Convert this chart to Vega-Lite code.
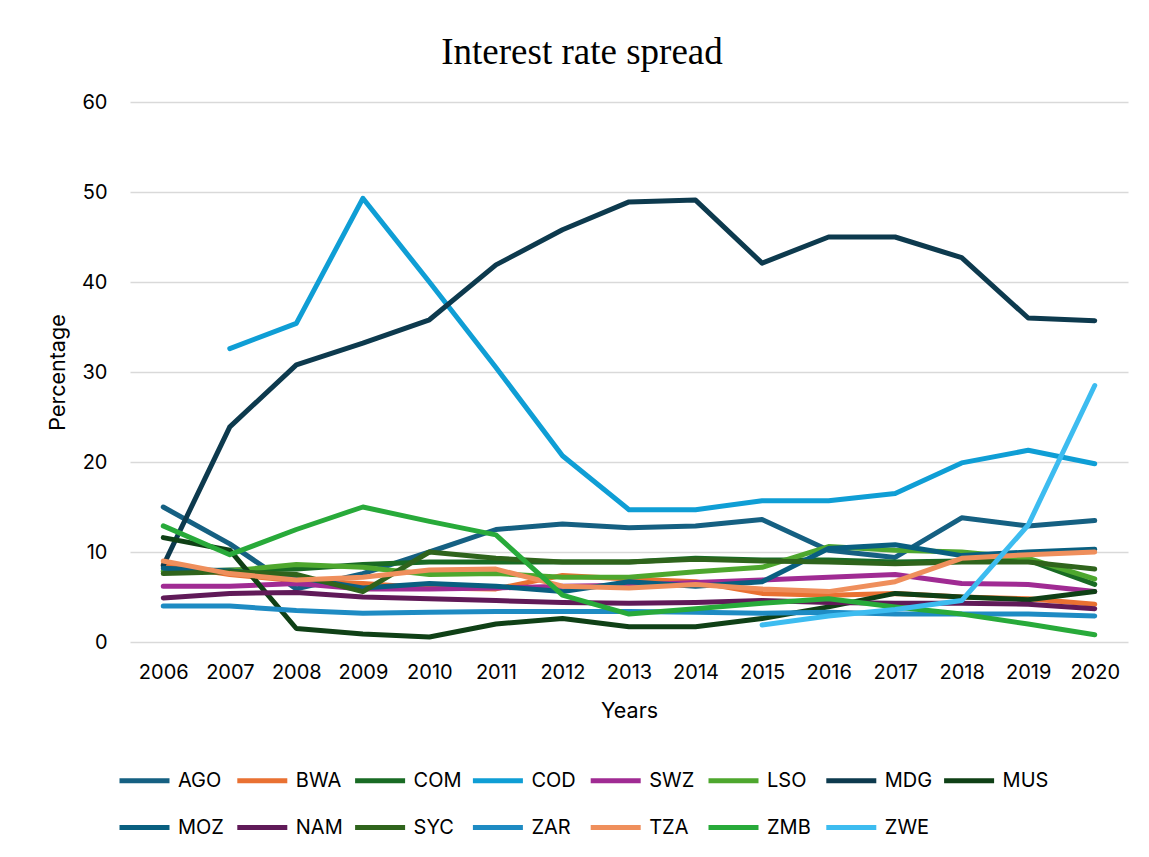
{
  "$schema": "https://vega.github.io/schema/vega-lite/v6.json",
  "width": 998,
  "height": 540,
  "autosize": {"type": "none"},
  "padding": {"left": 130, "top": 102, "right": 21, "bottom": 215},
  "background": "white",
  "title": {
    "text": "Interest rate spread",
    "font": "Liberation Serif",
    "fontSize": 37,
    "fontWeight": "normal",
    "color": "#000000",
    "anchor": "middle",
    "dx": -47,
    "offset": 20
  },
  "config": {
    "view": {"stroke": null},
    "font": "Inter"
  },
  "datasets": {
    "spread": [
      {"country": "AGO", "year": "2006", "value": 15.0},
      {"country": "AGO", "year": "2007", "value": 10.9},
      {"country": "AGO", "year": "2008", "value": 5.9},
      {"country": "AGO", "year": "2009", "value": 7.6},
      {"country": "AGO", "year": "2010", "value": 10.0},
      {"country": "AGO", "year": "2011", "value": 12.5},
      {"country": "AGO", "year": "2012", "value": 13.1},
      {"country": "AGO", "year": "2013", "value": 12.7},
      {"country": "AGO", "year": "2014", "value": 12.9},
      {"country": "AGO", "year": "2015", "value": 13.6},
      {"country": "AGO", "year": "2016", "value": 10.2},
      {"country": "AGO", "year": "2017", "value": 9.4},
      {"country": "AGO", "year": "2018", "value": 13.8},
      {"country": "AGO", "year": "2019", "value": 12.9},
      {"country": "AGO", "year": "2020", "value": 13.5},

      {"country": "BWA", "year": "2006", "value": 8.6},
      {"country": "BWA", "year": "2007", "value": 7.5},
      {"country": "BWA", "year": "2008", "value": 6.8},
      {"country": "BWA", "year": "2009", "value": 6.5},
      {"country": "BWA", "year": "2010", "value": 6.0},
      {"country": "BWA", "year": "2011", "value": 5.9},
      {"country": "BWA", "year": "2012", "value": 7.4},
      {"country": "BWA", "year": "2013", "value": 7.0},
      {"country": "BWA", "year": "2014", "value": 6.7},
      {"country": "BWA", "year": "2015", "value": 5.4},
      {"country": "BWA", "year": "2016", "value": 5.2},
      {"country": "BWA", "year": "2017", "value": 5.4},
      {"country": "BWA", "year": "2018", "value": 5.0},
      {"country": "BWA", "year": "2019", "value": 4.8},
      {"country": "BWA", "year": "2020", "value": 4.2},

      {"country": "COM", "year": "2006", "value": 7.8},
      {"country": "COM", "year": "2007", "value": 8.0},
      {"country": "COM", "year": "2008", "value": 8.1},
      {"country": "COM", "year": "2009", "value": 8.6},
      {"country": "COM", "year": "2010", "value": 8.9},
      {"country": "COM", "year": "2011", "value": 8.9},
      {"country": "COM", "year": "2012", "value": 8.9},
      {"country": "COM", "year": "2013", "value": 8.9},
      {"country": "COM", "year": "2014", "value": 9.3},
      {"country": "COM", "year": "2015", "value": 9.1},
      {"country": "COM", "year": "2016", "value": 9.1},
      {"country": "COM", "year": "2017", "value": 8.9},
      {"country": "COM", "year": "2018", "value": 9.0},
      {"country": "COM", "year": "2019", "value": 9.1},
      {"country": "COM", "year": "2020", "value": 6.4},

      {"country": "COD", "year": "2007", "value": 32.6},
      {"country": "COD", "year": "2008", "value": 35.4},
      {"country": "COD", "year": "2009", "value": 49.3},
      {"country": "COD", "year": "2010", "value": 40.0},
      {"country": "COD", "year": "2011", "value": 30.5},
      {"country": "COD", "year": "2012", "value": 20.7},
      {"country": "COD", "year": "2013", "value": 14.7},
      {"country": "COD", "year": "2014", "value": 14.7},
      {"country": "COD", "year": "2015", "value": 15.7},
      {"country": "COD", "year": "2016", "value": 15.7},
      {"country": "COD", "year": "2017", "value": 16.5},
      {"country": "COD", "year": "2018", "value": 19.9},
      {"country": "COD", "year": "2019", "value": 21.3},
      {"country": "COD", "year": "2020", "value": 19.8},

      {"country": "SWZ", "year": "2006", "value": 6.2},
      {"country": "SWZ", "year": "2007", "value": 6.2},
      {"country": "SWZ", "year": "2008", "value": 6.5},
      {"country": "SWZ", "year": "2009", "value": 5.9},
      {"country": "SWZ", "year": "2010", "value": 5.9},
      {"country": "SWZ", "year": "2011", "value": 6.0},
      {"country": "SWZ", "year": "2012", "value": 6.2},
      {"country": "SWZ", "year": "2013", "value": 6.3},
      {"country": "SWZ", "year": "2014", "value": 6.6},
      {"country": "SWZ", "year": "2015", "value": 6.9},
      {"country": "SWZ", "year": "2016", "value": 7.2},
      {"country": "SWZ", "year": "2017", "value": 7.5},
      {"country": "SWZ", "year": "2018", "value": 6.5},
      {"country": "SWZ", "year": "2019", "value": 6.4},
      {"country": "SWZ", "year": "2020", "value": 5.6},

      {"country": "LSO", "year": "2006", "value": 7.9},
      {"country": "LSO", "year": "2007", "value": 7.9},
      {"country": "LSO", "year": "2008", "value": 8.6},
      {"country": "LSO", "year": "2009", "value": 8.3},
      {"country": "LSO", "year": "2010", "value": 7.5},
      {"country": "LSO", "year": "2011", "value": 7.6},
      {"country": "LSO", "year": "2012", "value": 7.2},
      {"country": "LSO", "year": "2013", "value": 7.2},
      {"country": "LSO", "year": "2014", "value": 7.8},
      {"country": "LSO", "year": "2015", "value": 8.3},
      {"country": "LSO", "year": "2016", "value": 10.6},
      {"country": "LSO", "year": "2017", "value": 10.2},
      {"country": "LSO", "year": "2018", "value": 10.0},
      {"country": "LSO", "year": "2019", "value": 9.3},
      {"country": "LSO", "year": "2020", "value": 7.0},

      {"country": "MDG", "year": "2006", "value": 8.5},
      {"country": "MDG", "year": "2007", "value": 23.9},
      {"country": "MDG", "year": "2008", "value": 30.8},
      {"country": "MDG", "year": "2009", "value": 33.2},
      {"country": "MDG", "year": "2010", "value": 35.8},
      {"country": "MDG", "year": "2011", "value": 41.9},
      {"country": "MDG", "year": "2012", "value": 45.8},
      {"country": "MDG", "year": "2013", "value": 48.9},
      {"country": "MDG", "year": "2014", "value": 49.1},
      {"country": "MDG", "year": "2015", "value": 42.1},
      {"country": "MDG", "year": "2016", "value": 45.0},
      {"country": "MDG", "year": "2017", "value": 45.0},
      {"country": "MDG", "year": "2018", "value": 42.7},
      {"country": "MDG", "year": "2019", "value": 36.0},
      {"country": "MDG", "year": "2020", "value": 35.7},

      {"country": "MUS", "year": "2006", "value": 11.6},
      {"country": "MUS", "year": "2007", "value": 10.2},
      {"country": "MUS", "year": "2008", "value": 1.5},
      {"country": "MUS", "year": "2009", "value": 0.9},
      {"country": "MUS", "year": "2010", "value": 0.55},
      {"country": "MUS", "year": "2011", "value": 2.0},
      {"country": "MUS", "year": "2012", "value": 2.6},
      {"country": "MUS", "year": "2013", "value": 1.7},
      {"country": "MUS", "year": "2014", "value": 1.7},
      {"country": "MUS", "year": "2015", "value": 2.6},
      {"country": "MUS", "year": "2016", "value": 3.9},
      {"country": "MUS", "year": "2017", "value": 5.4},
      {"country": "MUS", "year": "2018", "value": 5.0},
      {"country": "MUS", "year": "2019", "value": 4.7},
      {"country": "MUS", "year": "2020", "value": 5.6},

      {"country": "MOZ", "year": "2006", "value": 8.2},
      {"country": "MOZ", "year": "2007", "value": 7.9},
      {"country": "MOZ", "year": "2008", "value": 7.2},
      {"country": "MOZ", "year": "2009", "value": 6.0},
      {"country": "MOZ", "year": "2010", "value": 6.5},
      {"country": "MOZ", "year": "2011", "value": 6.2},
      {"country": "MOZ", "year": "2012", "value": 5.6},
      {"country": "MOZ", "year": "2013", "value": 6.7},
      {"country": "MOZ", "year": "2014", "value": 6.2},
      {"country": "MOZ", "year": "2015", "value": 6.7},
      {"country": "MOZ", "year": "2016", "value": 10.4},
      {"country": "MOZ", "year": "2017", "value": 10.8},
      {"country": "MOZ", "year": "2018", "value": 9.6},
      {"country": "MOZ", "year": "2019", "value": 10.0},
      {"country": "MOZ", "year": "2020", "value": 10.3},

      {"country": "NAM", "year": "2006", "value": 4.9},
      {"country": "NAM", "year": "2007", "value": 5.4},
      {"country": "NAM", "year": "2008", "value": 5.5},
      {"country": "NAM", "year": "2009", "value": 5.0},
      {"country": "NAM", "year": "2010", "value": 4.8},
      {"country": "NAM", "year": "2011", "value": 4.6},
      {"country": "NAM", "year": "2012", "value": 4.4},
      {"country": "NAM", "year": "2013", "value": 4.3},
      {"country": "NAM", "year": "2014", "value": 4.4},
      {"country": "NAM", "year": "2015", "value": 4.6},
      {"country": "NAM", "year": "2016", "value": 4.4},
      {"country": "NAM", "year": "2017", "value": 4.3},
      {"country": "NAM", "year": "2018", "value": 4.3},
      {"country": "NAM", "year": "2019", "value": 4.2},
      {"country": "NAM", "year": "2020", "value": 3.7},

      {"country": "SYC", "year": "2006", "value": 7.6},
      {"country": "SYC", "year": "2007", "value": 7.8},
      {"country": "SYC", "year": "2008", "value": 7.5},
      {"country": "SYC", "year": "2009", "value": 5.6},
      {"country": "SYC", "year": "2010", "value": 10.0},
      {"country": "SYC", "year": "2011", "value": 9.3},
      {"country": "SYC", "year": "2012", "value": 8.9},
      {"country": "SYC", "year": "2013", "value": 8.9},
      {"country": "SYC", "year": "2014", "value": 9.2},
      {"country": "SYC", "year": "2015", "value": 9.0},
      {"country": "SYC", "year": "2016", "value": 8.9},
      {"country": "SYC", "year": "2017", "value": 8.7},
      {"country": "SYC", "year": "2018", "value": 8.9},
      {"country": "SYC", "year": "2019", "value": 8.9},
      {"country": "SYC", "year": "2020", "value": 8.1},

      {"country": "ZAR", "year": "2006", "value": 4.0},
      {"country": "ZAR", "year": "2007", "value": 4.0},
      {"country": "ZAR", "year": "2008", "value": 3.5},
      {"country": "ZAR", "year": "2009", "value": 3.2},
      {"country": "ZAR", "year": "2010", "value": 3.3},
      {"country": "ZAR", "year": "2011", "value": 3.4},
      {"country": "ZAR", "year": "2012", "value": 3.4},
      {"country": "ZAR", "year": "2013", "value": 3.4},
      {"country": "ZAR", "year": "2014", "value": 3.3},
      {"country": "ZAR", "year": "2015", "value": 3.2},
      {"country": "ZAR", "year": "2016", "value": 3.3},
      {"country": "ZAR", "year": "2017", "value": 3.1},
      {"country": "ZAR", "year": "2018", "value": 3.1},
      {"country": "ZAR", "year": "2019", "value": 3.1},
      {"country": "ZAR", "year": "2020", "value": 2.9},

      {"country": "TZA", "year": "2006", "value": 9.0},
      {"country": "TZA", "year": "2007", "value": 7.6},
      {"country": "TZA", "year": "2008", "value": 6.9},
      {"country": "TZA", "year": "2009", "value": 7.2},
      {"country": "TZA", "year": "2010", "value": 8.0},
      {"country": "TZA", "year": "2011", "value": 8.1},
      {"country": "TZA", "year": "2012", "value": 6.2},
      {"country": "TZA", "year": "2013", "value": 6.0},
      {"country": "TZA", "year": "2014", "value": 6.4},
      {"country": "TZA", "year": "2015", "value": 5.9},
      {"country": "TZA", "year": "2016", "value": 5.6},
      {"country": "TZA", "year": "2017", "value": 6.7},
      {"country": "TZA", "year": "2018", "value": 9.3},
      {"country": "TZA", "year": "2019", "value": 9.7},
      {"country": "TZA", "year": "2020", "value": 10.0},

      {"country": "ZMB", "year": "2006", "value": 12.9},
      {"country": "ZMB", "year": "2007", "value": 9.7},
      {"country": "ZMB", "year": "2008", "value": 12.5},
      {"country": "ZMB", "year": "2009", "value": 15.0},
      {"country": "ZMB", "year": "2010", "value": 13.4},
      {"country": "ZMB", "year": "2011", "value": 11.9},
      {"country": "ZMB", "year": "2012", "value": 5.2},
      {"country": "ZMB", "year": "2013", "value": 3.1},
      {"country": "ZMB", "year": "2014", "value": 3.7},
      {"country": "ZMB", "year": "2015", "value": 4.3},
      {"country": "ZMB", "year": "2016", "value": 4.8},
      {"country": "ZMB", "year": "2017", "value": 3.9},
      {"country": "ZMB", "year": "2018", "value": 3.1},
      {"country": "ZMB", "year": "2019", "value": 2.0},
      {"country": "ZMB", "year": "2020", "value": 0.8},

      {"country": "ZWE", "year": "2015", "value": 1.9},
      {"country": "ZWE", "year": "2016", "value": 2.9},
      {"country": "ZWE", "year": "2017", "value": 3.6},
      {"country": "ZWE", "year": "2018", "value": 4.6},
      {"country": "ZWE", "year": "2019", "value": 13.0},
      {"country": "ZWE", "year": "2020", "value": 28.5}
    ]
  },
  "data": {"name": "spread"},
  "mark": {"type": "line", "strokeWidth": 5, "strokeCap": "round", "strokeJoin": "round"},
  "encoding": {
    "x": {
      "field": "year",
      "type": "ordinal",
      "scale": {"type": "point", "padding": 0.5},
      "sort": ["2006","2007","2008","2009","2010","2011","2012","2013","2014","2015","2016","2017","2018","2019","2020"],
      "axis": {
        "title": "Years",
        "titleFontSize": 21.5,
        "titleFontWeight": "normal",
        "titleColor": "#000000",
        "titlePadding": 18,
        "labelFontSize": 20,
        "labelColor": "#000000",
        "labelPadding": 20,
        "labelAngle": 0,
        "domain": false,
        "ticks": false,
        "grid": false
      }
    },
    "y": {
      "field": "value",
      "type": "quantitative",
      "scale": {"domain": [0, 60], "nice": false},
      "axis": {
        "title": "Percentage",
        "titleFontSize": 21.5,
        "titleFontWeight": "normal",
        "titleColor": "#000000",
        "titlePadding": 12,
        "labelFontSize": 20,
        "labelColor": "#000000",
        "labelPadding": 23,
        "values": [0, 10, 20, 30, 40, 50, 60],
        "domain": false,
        "ticks": false,
        "grid": true,
        "gridColor": "#D9D9D9",
        "gridWidth": 1.3
      }
    },
    "color": {
      "field": "country",
      "type": "nominal",
      "scale": {
        "domain": ["AGO","BWA","COM","COD","SWZ","LSO","MDG","MUS","MOZ","NAM","SYC","ZAR","TZA","ZMB","ZWE"],
        "range": ["#156082","#E97132","#196B24","#0F9ED5","#A02B93","#4EA72E","#0D3A4E","#0F4016","#095F80","#601A58","#2F641C","#1E8BC3","#EF8F5C","#28AA3A","#3DBCF0"]
      },
      "legend": {
        "title": null,
        "orient": "none",
        "legendX": -13,
        "legendY": 651,
        "direction": "horizontal",
        "columns": 8,
        "gridAlign": "all",
        "symbolType": "stroke",
        "symbolSize": 2500,
        "symbolStrokeWidth": 5,
        "labelFontSize": 20,
        "labelColor": "#000000",
        "labelOffset": 6,
        "columnPadding": 0.8,
        "rowPadding": 9
      }
    },
    "order": {"field": "year"}
  }
}
